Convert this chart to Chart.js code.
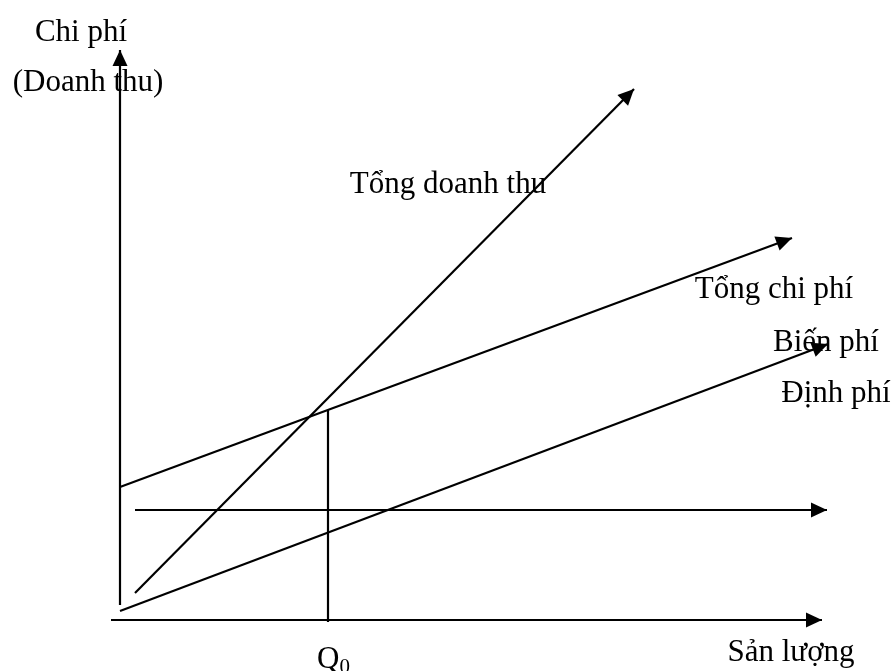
<!DOCTYPE html>
<html lang="vi">

<head>
    <meta charset="utf-8">
    <title>Điểm hòa vốn</title>
    <script src="https://cdn.jsdelivr.net/npm/chart.js"></script>
    <style>
        body {
            margin: 0;
            padding: 0;
            background-color: #fff;
        }

        canvas {
            display: block;
        }
    </style>
</head>

<body>
    <canvas id="breakEven" width="893" height="671"></canvas>

    <script>
        // Values (x = sản lượng, y = chi phí / doanh thu)
        const axisY = [{ x: 0, y: 1.5 }, { x: 0, y: 57 }];
        const axisX = [{ x: -0.9, y: 0 }, { x: 70.2, y: 0 }];
        const dinhPhi = [{ x: 1.5, y: 11 }, { x: 70.7, y: 11 }];
        const bienPhi = [{ x: 0, y: 0.9 }, { x: 70.8, y: 27.6 }];
        const tongChiPhi = [{ x: 0, y: 13.3 }, { x: 67.2, y: 38.2 }];
        const tongDoanhThu = [{ x: 1.5, y: 2.7 }, { x: 51.4, y: 53.1 }];
        const q0Line = [{ x: 20.8, y: -0.2 }, { x: 20.8, y: 21 }];

        // text labels and where they sit (data units)
        const labelText = ['Chi phí', '(Doanh thu)', 'Tổng doanh thu', 'Tổng chi phí', 'Biến phí', 'Định phí', 'Sản lượng'];
        const labelX = [-3.9, -3.2, 32.8, 65.4, 70.6, 71.6, 67.1];
        const labelY = [58.7, 53.7, 43.5, 33.0, 27.7, 22.6, -3.3];

        function line(data, arrow) {
            return {
                data: data,
                showLine: true,
                borderColor: '#000',
                borderWidth: 2.2,
                pointRadius: 0,
                arrow: arrow
            };
        }

        // draws arrow heads and the texts
        const diagramPlugin = {
            id: 'diagram',
            afterDatasetsDraw(chart) {
                const ctx = chart.ctx;
                const sx = chart.scales.x, sy = chart.scales.y;
                ctx.save();
                ctx.fillStyle = '#000';

                ctx.font = '31px "Liberation Serif", "Times New Roman", serif';
                ctx.textAlign = 'center';
                ctx.textBaseline = 'middle';
                labelText.forEach((t, i) => {
                    ctx.fillText(t, sx.getPixelForValue(labelX[i]), sy.getPixelForValue(labelY[i]));
                });

                // Q0 with subscript
                const qx = sx.getPixelForValue(19.7), qy = sy.getPixelForValue(-4.0);
                ctx.textAlign = 'left';
                ctx.fillText('Q', qx, qy);
                const w = ctx.measureText('Q').width;
                ctx.font = '21px "Liberation Serif", "Times New Roman", serif';
                ctx.fillText('0', qx + w, qy + 7);

                chart.data.datasets.forEach((ds, i) => {
                    if (!ds.arrow) return;
                    const pts = chart.getDatasetMeta(i).data;
                    const a = pts[pts.length - 2], b = pts[pts.length - 1];
                    const ang = Math.atan2(b.y - a.y, b.x - a.x);
                    const len = 16, half = 7.5;
                    ctx.beginPath();
                    ctx.moveTo(b.x, b.y);
                    ctx.lineTo(b.x - len * Math.cos(ang) - half * Math.sin(ang), b.y - len * Math.sin(ang) + half * Math.cos(ang));
                    ctx.lineTo(b.x - len * Math.cos(ang) + half * Math.sin(ang), b.y - len * Math.sin(ang) - half * Math.cos(ang));
                    ctx.closePath();
                    ctx.fill();
                });
                ctx.restore();
            }
        };

        new Chart(document.getElementById('breakEven'), {
            type: 'scatter',
            data: {
                datasets: [
                    line(axisY, true),
                    line(axisX, true),
                    line(dinhPhi, true),
                    line(bienPhi, true),
                    line(tongChiPhi, true),
                    line(tongDoanhThu, true),
                    line(q0Line, false)
                ]
            },
            options: {
                responsive: false,
                animation: false,
                layout: { padding: 0 },
                plugins: {
                    legend: { display: false },
                    tooltip: { enabled: false }
                },
                scales: {
                    x: { type: 'linear', min: -12, max: 77.3, display: false },
                    y: { type: 'linear', min: -5.1, max: 62, display: false }
                }
            },
            plugins: [diagramPlugin]
        });
    </script>

</body>

</html>
